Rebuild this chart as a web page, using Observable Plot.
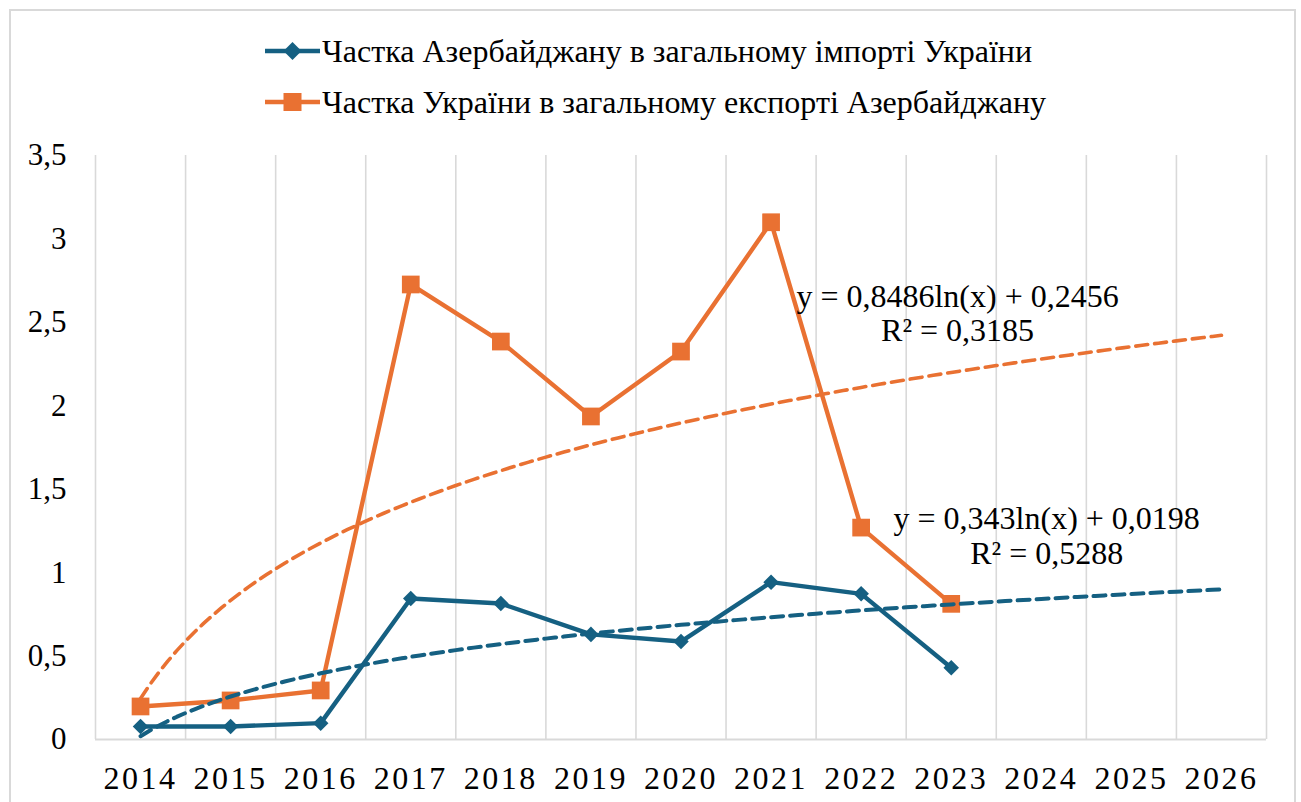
<!DOCTYPE html>
<html>
<head>
<meta charset="utf-8">
<script src="https://cdn.jsdelivr.net/npm/d3@7"></script>
<script src="https://cdn.jsdelivr.net/npm/@observablehq/plot@0.6"></script>
<style>
  html, body { margin: 0; padding: 0; background: #fff; }
  #wrap { position: relative; width: 1301px; height: 802px; overflow: hidden; font-family: "Liberation Serif", serif; }
  #frame { position: absolute; left: 9px; top: 9px; width: 1287px; height: 820px; border: 2px solid #d9d9d9; box-sizing: border-box; }
  #legend { position: relative; height: 140px; }
  .lg { position: absolute; left: 265px; display: flex; align-items: center; height: 40px; }
  .lg span { font-family: "Liberation Serif", serif !important; font-size: 32px; color: #000; margin-left: 2px; white-space: nowrap; }
  #chart { position: relative; }
  #chart svg text { font-family: "Liberation Serif", serif !important; }
  g[aria-label^="x-axis"] text { letter-spacing: 2.5px; font-size: 32px; }
  g[aria-label^="y-axis"] text { font-size: 31px; }
</style>
</head>
<body>
<div id="wrap">
  <div id="frame"></div>
  <div id="legend"></div>
  <div id="chart"></div>
</div>
<script>
// ---- data ----
const years = [2014, 2015, 2016, 2017, 2018, 2019, 2020, 2021, 2022, 2023];
const importShare = [0.078, 0.078, 0.098, 0.845, 0.815, 0.63, 0.587, 0.943, 0.873, 0.43];
const exportShare = [0.198, 0.234, 0.294, 2.727, 2.385, 1.936, 2.325, 3.10, 1.27, 0.813];
const axisYears = [2014, 2015, 2016, 2017, 2018, 2019, 2020, 2021, 2022, 2023, 2024, 2025, 2026];
const yTicks = [0, 0.5, 1, 1.5, 2, 2.5, 3, 3.5];
const seriesNames = ["Частка Азербайджану в загальному імпорті України", "Частка України в загальному експорті Азербайджану"];
const trendA = [0.343, 0.8486];
const trendB = [0.0198, 0.2456];
const trendEq = ["y = 0,343ln(x) + 0,0198", "y = 0,8486ln(x) + 0,2456"];
const trendR2 = ["R² = 0,5288", "R² = 0,3185"];

const BLUE = "#156082", ORANGE = "#E97132", GRID = "#d9d9d9";
const colors = [BLUE, ORANGE];

// legend
const legend = document.getElementById("legend");
seriesNames.forEach((name, i) => {
  const row = document.createElement("div");
  row.className = "lg";
  row.style.top = (i === 0 ? 31 : 82) + "px";
  const sym = i === 0
    ? `<path d="M27.5,42 L36.5,51 L27.5,60 L18.5,51 Z" fill="${BLUE}"/>`
    : `<rect x="18.5" y="42" width="18" height="18" fill="${ORANGE}"/>`;
  row.innerHTML = `<svg width="55" height="40" viewBox="0 31 55 40"><line x1="0" x2="55" y1="51" y2="51" stroke="${colors[i]}" stroke-width="4.5" stroke-linecap="round"/>${sym}</svg><span>${name}</span>`;
  legend.appendChild(row);
});

// tables
const imp = years.map((y, i) => ({year: y, v: importShare[i]}));
const exp = years.map((y, i) => ({year: y, v: exportShare[i]}));
const tx = d3.range(1, 13.0001, 0.1);
const trends = [0, 1].map(k => tx.map(t => ({year: 2013 + t, v: trendA[k] * Math.log(t) + trendB[k]})));
const bounds = d3.range(2013.5, 2027, 1);
const fmt = d => String(d).replace(".", ",");

const plot = Plot.plot({
  width: 1301,
  height: 662,
  marginLeft: 95,
  marginRight: 35,
  marginTop: 15,
  marginBottom: 63,
  style: {fontFamily: "'Liberation Serif', serif", fontSize: "31px", color: "#000", background: "transparent", overflow: "visible"},
  x: {domain: [2013.5, 2026.5], ticks: axisYears, tickFormat: d => String(d), tickSize: 0, tickPadding: 27, label: null},
  y: {domain: [0, 3.5], ticks: yTicks, tickFormat: fmt, tickSize: 0, tickPadding: 29, label: null},
  marks: [
    Plot.ruleX(bounds, {y1: 0, y2: 3.5, stroke: GRID, strokeWidth: 1.6}),
    Plot.ruleY([0], {x1: 2013.5, x2: 2026.5, stroke: GRID, strokeWidth: 2}),
    Plot.line(imp, {x: "year", y: "v", stroke: BLUE, strokeWidth: 4.4, strokeLinejoin: "round"}),
    Plot.dot(imp, {x: "year", y: "v", symbol: "diamond2", r: 7, fill: BLUE, stroke: "none"}),
    Plot.line(exp, {x: "year", y: "v", stroke: ORANGE, strokeWidth: 4.4, strokeLinejoin: "round"}),
    Plot.dot(exp, {x: "year", y: "v", symbol: "square", r: 10, fill: ORANGE, stroke: "none"}),
    Plot.line(trends[0], {x: "year", y: "v", stroke: BLUE, strokeWidth: 4, strokeDasharray: "12,7"}),
    Plot.line(trends[1], {x: "year", y: "v", stroke: ORANGE, strokeWidth: 3.6, strokeDasharray: "12,7"}),
    Plot.text([trendEq[1]], {x: 2023.07, y: 2.655, text: d => d, fontSize: 32, fill: "#000"}),
    Plot.text([trendR2[1]], {x: 2023.07, y: 2.451, text: d => d, fontSize: 32, fill: "#000"}),
    Plot.text([trendEq[0]], {x: 2024.06, y: 1.324, text: d => d, fontSize: 32, fill: "#000"}),
    Plot.text([trendR2[0]], {x: 2024.06, y: 1.115, text: d => d, fontSize: 32, fill: "#000"})
  ]
});
document.getElementById("chart").appendChild(plot);
</script>
</body>
</html>
